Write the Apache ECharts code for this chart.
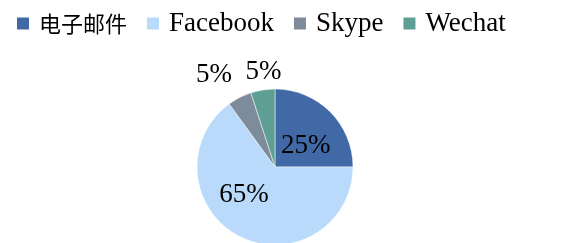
<!DOCTYPE html>
<html>
<head>
<meta charset="utf-8">
<script src="https://cdn.jsdelivr.net/npm/echarts@6/dist/echarts.min.js"></script>
<style>
html, body { margin: 0; padding: 0; background: #fff; }
#chart { width: 563px; height: 243px; }
</style>
</head>
<body>
<div id="chart"></div>
<script>
// 数据
var categories = ['电子邮件', 'Facebook', 'Skype', 'Wechat'];
var shares = [25, 65, 5, 5];
var colors = ['#4069a6', '#b9dafa', '#7d8b9a', '#5f9e94'];
// 标签偏移
var labelOffsets = [[1, 9], [-12, -10], [-42, -55], [-5, -54]];

var serif = '"Liberation Serif", "Noto Sans CJK SC", serif';

var pieData = categories.map(function(name, i) {
    return {
        name: name,
        value: shares[i],
        itemStyle: { color: colors[i] },
        label: { offset: labelOffsets[i] }
    };
});

var myChart = echarts.init(document.getElementById('chart'));
var option = {
    animation: false,
    legend: {
        left: 10,
        top: 5,
        itemWidth: 14,
        itemHeight: 14,
        itemGap: 18,
        icon: 'rect',
        data: categories,
        formatter: function(name) {
            return /[\u4e00-\u9fa5]/.test(name) ? '{cjk|' + name + '}' : name;
        },
        textStyle: {
            fontFamily: serif,
            fontSize: 27,
            color: '#000',
            padding: [0, 0, 0, 4],
            rich: {
                cjk: { fontFamily: '"Noto Sans CJK SC", sans-serif', fontSize: 22, color: '#000' }
            }
        }
    },
    series: [{
        type: 'pie',
        center: [275, 167],
        radius: 78,
        startAngle: 90,
        clockwise: true,
        label: {
            show: true,
            position: 'inside',
            formatter: '{c}%',
            fontFamily: serif,
            fontSize: 27,
            color: '#000'
        },
        labelLine: { show: false },
        itemStyle: { borderColor: '#fff', borderWidth: 0.5 },
        emphasis: { disabled: true },
        data: pieData
    }]
};
myChart.setOption(option, true);
</script>
</body>
</html>
